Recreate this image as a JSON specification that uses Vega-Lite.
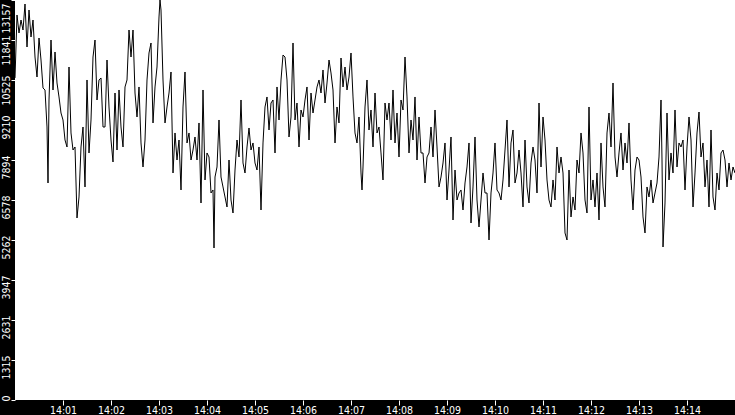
{
  "$schema": "https://vega.github.io/schema/vega-lite/v6.json",
  "width": 720,
  "height": 400,
  "autosize": "none",
  "padding": {"left": 15, "top": 0, "right": 0, "bottom": 15},
  "background": "black",
  "config": {
    "view": {"fill": "white", "stroke": null},
    "axis": {
      "labelColor": "white",
      "tickColor": "white",
      "labelFont": "DejaVu Sans Condensed, DejaVu Sans",
      "labelFontSize": 10.5,
      "grid": false,
      "domain": false,
      "title": null
    }
  },
  "data": {
    "values": [
      {"t": 0, "v": 10592}, {"t": 2.5, "v": 12664}, {"t": 5, "v": 12072}, {"t": 7.5, "v": 12499},
      {"t": 10, "v": 12170}, {"t": 12.5, "v": 13025}, {"t": 15, "v": 11611}, {"t": 17.5, "v": 12828},
      {"t": 20, "v": 11940}, {"t": 22.5, "v": 12499}, {"t": 25, "v": 11282}, {"t": 27.5, "v": 10624},
      {"t": 30, "v": 11907}, {"t": 32.5, "v": 11183}, {"t": 35, "v": 10263}, {"t": 37.5, "v": 10197},
      {"t": 40, "v": 8980}, {"t": 41.25, "v": 7138}, {"t": 42.5, "v": 9868}, {"t": 45, "v": 11841},
      {"t": 47.5, "v": 10197}, {"t": 50, "v": 11447}, {"t": 52.5, "v": 10427}, {"t": 55, "v": 9967},
      {"t": 57.5, "v": 9440}, {"t": 60, "v": 9210}, {"t": 62.5, "v": 8552}, {"t": 65, "v": 8322},
      {"t": 67.5, "v": 10953}, {"t": 70, "v": 8783}, {"t": 72.5, "v": 8223}, {"t": 75, "v": 8322},
      {"t": 77.5, "v": 5987}, {"t": 80, "v": 6678}, {"t": 82.5, "v": 8322}, {"t": 85, "v": 8980},
      {"t": 87.5, "v": 7007}, {"t": 90, "v": 10526}, {"t": 92.5, "v": 8125}, {"t": 95, "v": 9210},
      {"t": 97.5, "v": 11282}, {"t": 100, "v": 11841}, {"t": 102.5, "v": 9868}, {"t": 105, "v": 10526},
      {"t": 107.5, "v": 10592}, {"t": 110, "v": 8980},
      {"t": 112.5, "v": 8980}, {"t": 115, "v": 11183}, {"t": 117.5, "v": 9638}, {"t": 120, "v": 8552},
      {"t": 122.5, "v": 7829}, {"t": 125, "v": 10098}, {"t": 127.5, "v": 8223}, {"t": 130, "v": 10197},
      {"t": 132.5, "v": 8980}, {"t": 135, "v": 8322}, {"t": 137.5, "v": 10296}, {"t": 140, "v": 10526},
      {"t": 142.5, "v": 12170}, {"t": 145, "v": 11282}, {"t": 147.5, "v": 12170}, {"t": 150, "v": 10098},
      {"t": 152.5, "v": 9309}, {"t": 155, "v": 10296}, {"t": 157.5, "v": 8454}, {"t": 160, "v": 7664},
      {"t": 162.5, "v": 8552}, {"t": 165, "v": 10526}, {"t": 167.5, "v": 11414}, {"t": 170, "v": 11743},
      {"t": 172.5, "v": 9112}, {"t": 175, "v": 10296}, {"t": 177.5, "v": 10953}, {"t": 180, "v": 12598},
      {"t": 181.25, "v": 13157}, {"t": 182.5, "v": 12828}, {"t": 185, "v": 10526}, {"t": 187.5, "v": 9112},
      {"t": 190, "v": 9638}, {"t": 192.5, "v": 10098}, {"t": 195, "v": 10789}, {"t": 197.5, "v": 7467},
      {"t": 200, "v": 8783}, {"t": 202.5, "v": 7894}, {"t": 205, "v": 8552}, {"t": 207.5, "v": 6908},
      {"t": 210, "v": 9638}, {"t": 212.5, "v": 10789}, {"t": 215, "v": 8454}, {"t": 217.5, "v": 8783},
      {"t": 220, "v": 7894}, {"t": 222.5, "v": 8223},
      {"t": 225, "v": 8651}, {"t": 227.5, "v": 7894}, {"t": 230, "v": 9112}, {"t": 232.5, "v": 6480},
      {"t": 235, "v": 10197}, {"t": 237.5, "v": 7237}, {"t": 240, "v": 8125}, {"t": 242.5, "v": 7993},
      {"t": 245, "v": 6809}, {"t": 247.5, "v": 6908}, {"t": 248.75, "v": 5000}, {"t": 250, "v": 7335},
      {"t": 252.5, "v": 7664}, {"t": 255, "v": 9210}, {"t": 257.5, "v": 7335}, {"t": 260, "v": 7007},
      {"t": 262.5, "v": 6678}, {"t": 265, "v": 6349}, {"t": 267.5, "v": 7894}, {"t": 270, "v": 6578},
      {"t": 272.5, "v": 6151}, {"t": 275, "v": 7565}, {"t": 277.5, "v": 8552}, {"t": 280, "v": 7993},
      {"t": 282.5, "v": 9868}, {"t": 285, "v": 7796}, {"t": 287.5, "v": 7467}, {"t": 290, "v": 8322},
      {"t": 292.5, "v": 8947}, {"t": 295, "v": 8223}, {"t": 297.5, "v": 8454}, {"t": 300, "v": 7796},
      {"t": 302.5, "v": 7565}, {"t": 305, "v": 8322}, {"t": 307.5, "v": 6250}, {"t": 310, "v": 8454},
      {"t": 312.5, "v": 9638}, {"t": 315, "v": 9967}, {"t": 317.5, "v": 8881}, {"t": 320, "v": 9769},
      {"t": 322.5, "v": 9868}, {"t": 325, "v": 8125}, {"t": 327.5, "v": 10296}, {"t": 330, "v": 9210},
      {"t": 332.5, "v": 10526}, {"t": 335, "v": 11348},
      {"t": 337.5, "v": 11282}, {"t": 340, "v": 10526}, {"t": 342.5, "v": 8651}, {"t": 345, "v": 9309},
      {"t": 347.5, "v": 11743}, {"t": 350, "v": 9210}, {"t": 352.5, "v": 9769}, {"t": 355, "v": 8322},
      {"t": 357.5, "v": 9539}, {"t": 360, "v": 9309}, {"t": 362.5, "v": 9868}, {"t": 365, "v": 10296},
      {"t": 367.5, "v": 8552}, {"t": 370, "v": 10098}, {"t": 372.5, "v": 9440}, {"t": 375, "v": 9868},
      {"t": 377.5, "v": 10296}, {"t": 380, "v": 10526}, {"t": 382.5, "v": 10098}, {"t": 385, "v": 10855},
      {"t": 387.5, "v": 9769}, {"t": 390, "v": 10427}, {"t": 392.5, "v": 11183}, {"t": 395, "v": 10756},
      {"t": 397.5, "v": 10197}, {"t": 400, "v": 8454}, {"t": 402.5, "v": 9638}, {"t": 405, "v": 9112},
      {"t": 407.5, "v": 11249}, {"t": 410, "v": 10296}, {"t": 412.5, "v": 10953}, {"t": 415, "v": 10197},
      {"t": 417.5, "v": 10624}, {"t": 420, "v": 11414}, {"t": 422.5, "v": 9967}, {"t": 425, "v": 8783},
      {"t": 427.5, "v": 8454}, {"t": 430, "v": 9309}, {"t": 432.5, "v": 7467}, {"t": 433.75, "v": 6908},
      {"t": 435, "v": 7664}, {"t": 437.5, "v": 9638}, {"t": 440, "v": 10526}, {"t": 442.5, "v": 8881},
      {"t": 445, "v": 9539}, {"t": 447.5, "v": 8322},
      {"t": 450, "v": 10098}, {"t": 452.5, "v": 8783}, {"t": 455, "v": 8980}, {"t": 457.5, "v": 8125},
      {"t": 460, "v": 7237}, {"t": 462.5, "v": 9769}, {"t": 465, "v": 9210}, {"t": 467.5, "v": 9769},
      {"t": 470, "v": 8552}, {"t": 472.5, "v": 10197}, {"t": 475, "v": 8454}, {"t": 477.5, "v": 9440},
      {"t": 480, "v": 7993}, {"t": 482.5, "v": 9868}, {"t": 485, "v": 9539}, {"t": 487.5, "v": 11282},
      {"t": 490, "v": 9967}, {"t": 492.5, "v": 8125}, {"t": 495, "v": 9210}, {"t": 497.5, "v": 8552},
      {"t": 500, "v": 9967}, {"t": 502.5, "v": 7894}, {"t": 505, "v": 9309}, {"t": 507.5, "v": 8125},
      {"t": 510, "v": 8125}, {"t": 512.5, "v": 7138}, {"t": 515, "v": 7993}, {"t": 517.5, "v": 8125},
      {"t": 520, "v": 8980}, {"t": 522.5, "v": 7993}, {"t": 525, "v": 9539}, {"t": 527.5, "v": 8322},
      {"t": 530, "v": 7007}, {"t": 532.5, "v": 7335}, {"t": 535, "v": 7796}, {"t": 537.5, "v": 8454},
      {"t": 540, "v": 6578}, {"t": 542.5, "v": 7565}, {"t": 545, "v": 8651}, {"t": 547.5, "v": 5921},
      {"t": 550, "v": 7565}, {"t": 552.5, "v": 6578}, {"t": 555, "v": 6809}, {"t": 557.5, "v": 6908},
      {"t": 560, "v": 6250},
      {"t": 562.5, "v": 7138}, {"t": 565, "v": 7664}, {"t": 567.5, "v": 8454}, {"t": 570, "v": 5823},
      {"t": 572.5, "v": 7007}, {"t": 575, "v": 8651}, {"t": 577.5, "v": 6578}, {"t": 580, "v": 5691},
      {"t": 582.5, "v": 6578}, {"t": 585, "v": 7467}, {"t": 587.5, "v": 6809}, {"t": 590, "v": 6809},
      {"t": 592.5, "v": 5263}, {"t": 595, "v": 6809}, {"t": 597.5, "v": 7467}, {"t": 600, "v": 8454},
      {"t": 602.5, "v": 6908}, {"t": 605, "v": 6809}, {"t": 607.5, "v": 6578}, {"t": 610, "v": 7237},
      {"t": 612.5, "v": 8223}, {"t": 615, "v": 9210}, {"t": 617.5, "v": 7007}, {"t": 620, "v": 8454},
      {"t": 622.5, "v": 8881}, {"t": 625, "v": 7138}, {"t": 627.5, "v": 7467}, {"t": 630, "v": 8223},
      {"t": 632.5, "v": 7467}, {"t": 635, "v": 6349}, {"t": 637.5, "v": 8552}, {"t": 640, "v": 7007},
      {"t": 642.5, "v": 6480}, {"t": 645, "v": 7796}, {"t": 647.5, "v": 8322}, {"t": 650, "v": 7894},
      {"t": 652.5, "v": 6809}, {"t": 655, "v": 9769}, {"t": 657.5, "v": 7664}, {"t": 660, "v": 9309},
      {"t": 662.5, "v": 8552}, {"t": 665, "v": 7237}, {"t": 667.5, "v": 6578}, {"t": 670, "v": 6349},
      {"t": 672.5, "v": 7237},
      {"t": 675, "v": 6578}, {"t": 677.5, "v": 8322}, {"t": 680, "v": 7467}, {"t": 682.5, "v": 7993},
      {"t": 685, "v": 7467}, {"t": 687.5, "v": 5494}, {"t": 690, "v": 5263}, {"t": 692.5, "v": 7565},
      {"t": 695, "v": 6020}, {"t": 697.5, "v": 6678}, {"t": 700, "v": 6250}, {"t": 702.5, "v": 7894},
      {"t": 705, "v": 7467}, {"t": 707.5, "v": 8783}, {"t": 710, "v": 8125}, {"t": 712.5, "v": 6578},
      {"t": 715, "v": 6151}, {"t": 717.5, "v": 9638}, {"t": 720, "v": 6578}, {"t": 722.5, "v": 7237},
      {"t": 725, "v": 6349}, {"t": 727.5, "v": 7467}, {"t": 730, "v": 5921}, {"t": 732.5, "v": 8454},
      {"t": 735, "v": 7007}, {"t": 737.5, "v": 6349}, {"t": 740, "v": 8783}, {"t": 742.5, "v": 9440},
      {"t": 745, "v": 8322}, {"t": 747.5, "v": 10427}, {"t": 750, "v": 7993}, {"t": 752.5, "v": 7335},
      {"t": 755, "v": 8125}, {"t": 757.5, "v": 8783}, {"t": 760, "v": 7565}, {"t": 762.5, "v": 8454},
      {"t": 765, "v": 7796}, {"t": 767.5, "v": 9112}, {"t": 770, "v": 7237}, {"t": 772.5, "v": 6250},
      {"t": 775, "v": 7565}, {"t": 777.5, "v": 7993}, {"t": 780, "v": 7894}, {"t": 782.5, "v": 7335},
      {"t": 785, "v": 6020},
      {"t": 787.5, "v": 5494}, {"t": 790, "v": 7007}, {"t": 792.5, "v": 6678}, {"t": 795, "v": 7237},
      {"t": 797.5, "v": 6480}, {"t": 800, "v": 6809}, {"t": 802.5, "v": 7138}, {"t": 805, "v": 7993},
      {"t": 807.5, "v": 9868}, {"t": 808.75, "v": 7894}, {"t": 810, "v": 5033}, {"t": 812.5, "v": 6480},
      {"t": 815, "v": 9440}, {"t": 817.5, "v": 7237}, {"t": 820, "v": 8125}, {"t": 822.5, "v": 7467},
      {"t": 825, "v": 9539}, {"t": 827.5, "v": 7664}, {"t": 830, "v": 8454}, {"t": 832.5, "v": 8322},
      {"t": 835, "v": 8552}, {"t": 837.5, "v": 6908}, {"t": 840, "v": 8322}, {"t": 842.5, "v": 9309},
      {"t": 845, "v": 8552}, {"t": 847.5, "v": 6349}, {"t": 850, "v": 7467}, {"t": 852.5, "v": 8783},
      {"t": 855, "v": 9473}, {"t": 857.5, "v": 7993}, {"t": 860, "v": 8454}, {"t": 862.5, "v": 7007},
      {"t": 865, "v": 7894}, {"t": 867.5, "v": 6349}, {"t": 870, "v": 8881}, {"t": 872.5, "v": 6678},
      {"t": 875, "v": 6250}, {"t": 877.5, "v": 7467}, {"t": 880, "v": 6908}, {"t": 882.5, "v": 8125},
      {"t": 885, "v": 8223}, {"t": 887.5, "v": 7894}, {"t": 890, "v": 7007}, {"t": 892.5, "v": 7796},
      {"t": 895, "v": 7237}, {"t": 897.5, "v": 7664}, {"t": 900, "v": 7467}
    ]
  },
  "mark": {"type": "line", "color": "black", "strokeWidth": 1, "interpolate": "linear"},
  "encoding": {
    "x": {
      "field": "t",
      "type": "quantitative",
      "scale": {"domain": [0, 900], "nice": false, "zero": false},
      "axis": {
        "values": [60, 120, 180, 240, 300, 360, 420, 480, 540, 600, 660, 720, 780, 840],
        "labelExpr": "'14:' + (datum.value < 600 ? '0' : '') + (datum.value / 60)",
        "tickSize": 5,
        "labelPadding": 0,
        "labelBaseline": "top",
        "labelFlush": false,
        "labelOverlap": false
      }
    },
    "y": {
      "field": "v",
      "type": "quantitative",
      "scale": {"domain": [0, 13157], "nice": false},
      "axis": {
        "values": [0, 1315, 2631, 3947, 5262, 6578, 7894, 9210, 10525, 11841, 13157],
        "format": "d",
        "tickSize": 4,
        "labelPadding": 0,
        "labelAngle": -90,
        "labelAlign": "right",
        "labelBaseline": "bottom",
        "labelOffset": {"condition": {"test": "datum.value > 13000", "value": 3}, "value": -5},
        "labelFlush": false,
        "labelOverlap": false
      }
    }
  }
}
